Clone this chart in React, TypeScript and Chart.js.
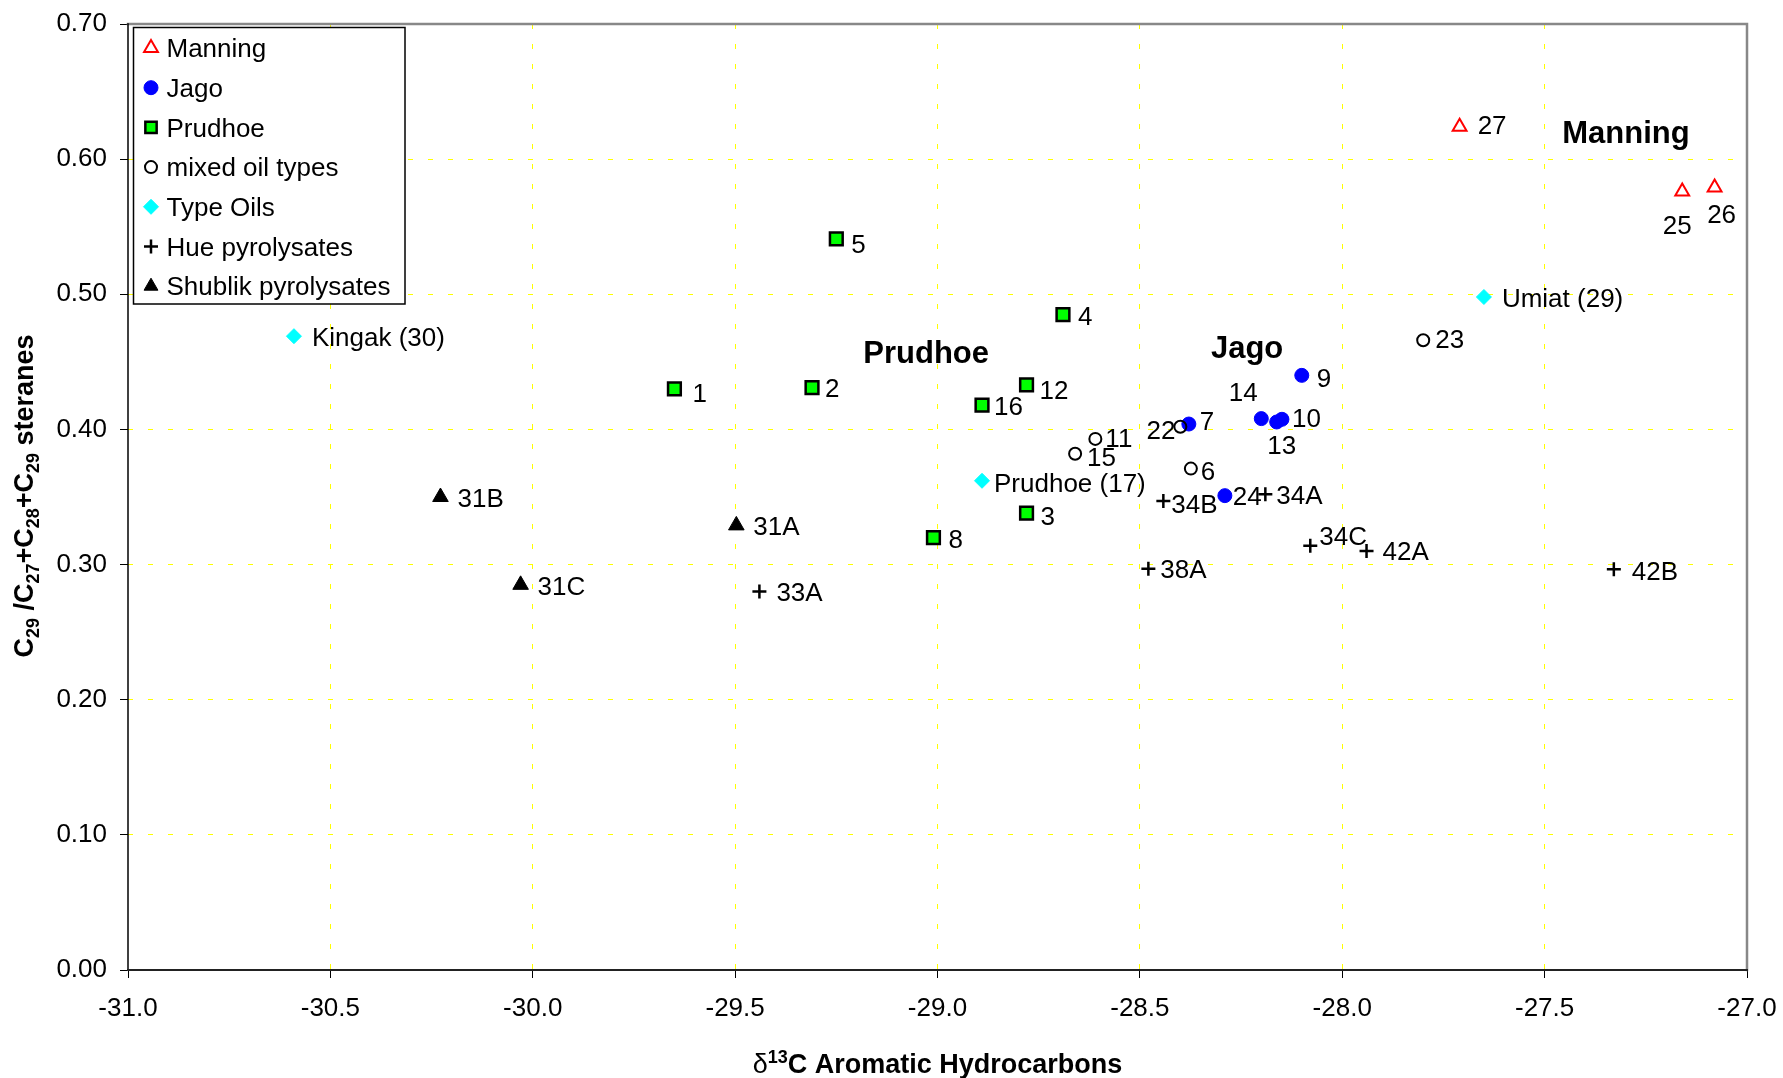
import { useEffect, useRef } from 'react';
import { Chart, registerables } from 'chart.js';
import * as helpers from 'chart.js/helpers';

Chart.register(...registerables);

const FONT = '"Liberation Sans", Arial, Helvetica, sans-serif';

// δ13C aromatic hydrocarbons (x) vs C29/(C27+C28+C29) steranes (y)
const manningIds = ['27', '25', '26'];
const manningX = [-27.71, -27.16, -27.08];
const manningY = [0.624, 0.576, 0.579];

const jagoIds = ['9', '14', '13', '10', '7', '24'];
const jagoX = [-28.1, -28.2, -28.162, -28.149, -28.379, -28.29];
const jagoY = [0.44, 0.408, 0.4055, 0.4075, 0.404, 0.351];

const prudhoeIds = ['5', '1', '2', '4', '12', '16', '3', '8'];
const prudhoeX = [-29.25, -29.65, -29.31, -28.69, -28.78, -28.89, -28.78, -29.01];
const prudhoeY = [0.541, 0.43, 0.431, 0.485, 0.433, 0.418, 0.338, 0.32];

const mixedIds = ['22', '11', '15', '6', '23'];
const mixedX = [-28.4, -28.61, -28.66, -28.374, -27.8];
const mixedY = [0.402, 0.393, 0.382, 0.371, 0.466];

const typeIds = ['Kingak (30)', 'Prudhoe (17)', 'Umiat (29)'];
const typeX = [-30.59, -28.89, -27.65];
const typeY = [0.469, 0.362, 0.498];

const hueIds = ['34B', '38A', '34A', '34C', '42A', '42B', '33A'];
const hueX = [-28.442, -28.479, -28.19, -28.079, -27.94, -27.329, -29.44];
const hueY = [0.347, 0.297, 0.352, 0.314, 0.31, 0.2965, 0.28];

const shublikIds = ['31B', '31A', '31C'];
const shublikX = [-30.228, -29.497, -30.03];
const shublikY = [0.35, 0.329, 0.285];

// Group captions placed in data coordinates
const groupNames = ['Prudhoe', 'Jago', 'Manning'];
const groupX = [-29.028, -28.235, -27.299];
const groupY = [0.4575, 0.4617, 0.6203];

// Axis ranges and tick steps
const xMin = -31.0;
const xMax = -27.0;
const xStep = 0.5;
const yMin = 0.0;
const yMax = 0.7;
const yStep = 0.1;

type Series = {
  label: string;
  ids: string[];
  xs: number[];
  ys: number[];
  pointStyle: string;
  radius: number;
  borderWidth: number;
  bg: string;
  border: string;
  order: number;
};

const seriesList: Series[] = [
  { label: 'Manning', ids: manningIds, xs: manningX, ys: manningY, pointStyle: 'triangle', radius: 8, borderWidth: 2, bg: 'rgba(0,0,0,0)', border: '#ff0000', order: 3 },
  { label: 'Jago', ids: jagoIds, xs: jagoX, ys: jagoY, pointStyle: 'circle', radius: 7, borderWidth: 1, bg: '#0000ff', border: '#0000ff', order: 2 },
  { label: 'Prudhoe', ids: prudhoeIds, xs: prudhoeX, ys: prudhoeY, pointStyle: 'rect', radius: 9, borderWidth: 2.5, bg: '#00ff00', border: '#000000', order: 4 },
  { label: 'mixed oil types', ids: mixedIds, xs: mixedX, ys: mixedY, pointStyle: 'circle', radius: 6, borderWidth: 2, bg: 'rgba(255,255,255,0)', border: '#000000', order: 1 },
  { label: 'Type Oils', ids: typeIds, xs: typeX, ys: typeY, pointStyle: 'rectRot', radius: 7.5, borderWidth: 1, bg: '#00ffff', border: '#00ffff', order: 5 },
  { label: 'Hue pyrolysates', ids: hueIds, xs: hueX, ys: hueY, pointStyle: 'cross', radius: 7, borderWidth: 2.5, bg: '#000000', border: '#000000', order: 6 },
  { label: 'Shublik pyrolysates', ids: shublikIds, xs: shublikX, ys: shublikY, pointStyle: 'triangle', radius: 9, borderWidth: 1, bg: '#000000', border: '#000000', order: 7 },
];

// Label offsets from the marker: [dx, dy, align]
const defaultPlacement: [number, number, CanvasTextAlign] = [16, 1, 'left'];
const labelPlacement: Record<string, [number, number, CanvasTextAlign]> = {
  '25': [-5, 33, 'center'],
  '26': [7, 26, 'center'],
  '27': [18, -2, 'left'],
  '14': [-18, -27, 'center'],
  '13': [5, 22, 'center'],
  '10': [10, -2, 'left'],
  '9': [15, 2, 'left'],
  '7': [11, -4, 'left'],
  '24': [8, 0, 'left'],
  '22': [-5, 3, 'right'],
  '11': [10, -2, 'left'],
  '15': [12, 3, 'left'],
  '6': [10, 2, 'left'],
  '23': [12, -2, 'left'],
  '5': [15, 4, 'left'],
  '1': [18, 3, 'left'],
  '2': [13, 0, 'left'],
  '4': [15, 1, 'left'],
  '12': [13, 4, 'left'],
  '16': [12, 0, 'left'],
  '3': [14, 2, 'left'],
  '8': [15, 1, 'left'],
  'Prudhoe (17)': [12, 2, 'left'],
  'Umiat (29)': [18, 0, 'left'],
  'Kingak (30)': [18, 0, 'left'],
  '34B': [8, 2, 'left'],
  '34A': [11, 0, 'left'],
  '34C': [9, -10, 'left'],
  '38A': [12, 0, 'left'],
  '42A': [16, -1, 'left'],
  '42B': [18, 1, 'left'],
  '33A': [17, 0, 'left'],
  '31A': [17, 0, 'left'],
  '31B': [17, 0, 'left'],
  '31C': [17, 0, 'left'],
};

const near = (a: number, b: number) => Math.abs(a - b) < 1e-6;

const framePlugin = {
  id: 'frame',
  beforeDatasetsDraw(chart: any) {
    const { ctx } = chart;
    const { left, right, top, bottom } = chart.chartArea;
    ctx.save();
    ctx.lineCap = 'square';
    ctx.strokeStyle = '#888888';
    ctx.lineWidth = 2.5;
    ctx.beginPath();
    ctx.moveTo(left, top);
    ctx.lineTo(right, top);
    ctx.lineTo(right, bottom);
    ctx.stroke();
    ctx.strokeStyle = '#000000';
    ctx.lineWidth = 1.5;
    ctx.beginPath();
    ctx.moveTo(left, top);
    ctx.lineTo(left, bottom);
    ctx.stroke();
    ctx.strokeStyle = '#222222';
    ctx.lineWidth = 2;
    ctx.beginPath();
    ctx.moveTo(left, bottom);
    ctx.lineTo(right, bottom);
    ctx.stroke();
    ctx.restore();
  },
};

const pointLabelsPlugin = {
  id: 'pointLabels',
  afterDatasetsDraw(chart: any) {
    const { ctx } = chart;
    ctx.save();
    ctx.fillStyle = '#000000';
    ctx.textBaseline = 'middle';
    ctx.font = `26px ${FONT}`;
    chart.data.datasets.forEach((_ds: any, di: number) => {
      const meta = chart.getDatasetMeta(di);
      const ids = seriesList[di].ids;
      meta.data.forEach((pt: any, j: number) => {
        const id = ids[j];
        const [dx, dy, align] = labelPlacement[id] ?? defaultPlacement;
        ctx.textAlign = align;
        ctx.fillText(id, pt.x + dx, pt.y + dy + 2.5);
      });
    });
    ctx.font = `bold 31px ${FONT}`;
    ctx.textAlign = 'center';
    const xs = chart.scales.x;
    const ys = chart.scales.y;
    groupNames.forEach((name, i) => {
      ctx.fillText(name, xs.getPixelForValue(groupX[i]), ys.getPixelForValue(groupY[i]) + 3);
    });
    ctx.restore();
  },
};

const legendPlugin = {
  id: 'insetLegend',
  afterDatasetsDraw(chart: any) {
    const { ctx } = chart;
    const { left, top } = chart.chartArea;
    const bx = left + 5.5;
    const by = top + 3.5;
    const bw = 271.5;
    const bh = 276.5;
    ctx.save();
    ctx.fillStyle = '#ffffff';
    ctx.fillRect(bx, by, bw, bh);
    ctx.strokeStyle = '#000000';
    ctx.lineWidth = 1.5;
    ctx.strokeRect(bx, by, bw, bh);
    seriesList.forEach((s, i) => {
      const cy = by + 20.5 + i * 39.7;
      ctx.fillStyle = s.bg;
      ctx.strokeStyle = s.border;
      ctx.lineWidth = s.borderWidth;
      helpers.drawPoint(
        ctx,
        { pointStyle: s.pointStyle as any, radius: Math.min(s.radius, 8), borderWidth: s.borderWidth, rotation: 0 } as any,
        bx + 17.5,
        cy
      );
      ctx.fillStyle = '#000000';
      ctx.font = `26px ${FONT}`;
      ctx.textAlign = 'left';
      ctx.textBaseline = 'middle';
      ctx.fillText(s.label, bx + 33, cy + 2);
    });
    ctx.restore();
  },
};

type Seg = { t: string; font: string; dy: number };

function drawSegments(ctx: CanvasRenderingContext2D, segs: Seg[], cx: number, baseline: number) {
  let total = 0;
  const widths = segs.map((s) => {
    ctx.font = s.font;
    const w = ctx.measureText(s.t).width;
    total += w;
    return w;
  });
  let x = cx - total / 2;
  ctx.textAlign = 'left';
  ctx.textBaseline = 'alphabetic';
  segs.forEach((s, i) => {
    ctx.font = s.font;
    ctx.fillText(s.t, x, baseline + s.dy);
    x += widths[i];
  });
}

const titlesPlugin = {
  id: 'axisTitles',
  afterDraw(chart: any) {
    const { ctx } = chart;
    const { left, right, top, bottom } = chart.chartArea;
    const big = `bold 27px ${FONT}`;
    const small = `bold 18px ${FONT}`;
    ctx.save();
    ctx.fillStyle = '#000000';
    drawSegments(
      ctx,
      [
        { t: 'δ', font: `27px ${FONT}`, dy: 0 },
        { t: '13', font: small, dy: -10 },
        { t: 'C Aromatic Hydrocarbons', font: big, dy: 0 },
      ],
      (left + right) / 2,
      bottom + 103
    );
    ctx.translate(33, (top + bottom) / 2 - 1);
    ctx.rotate(-Math.PI / 2);
    drawSegments(
      ctx,
      [
        { t: 'C', font: big, dy: 0 },
        { t: '29', font: small, dy: 6 },
        { t: ' /C', font: big, dy: 0 },
        { t: '27', font: small, dy: 6 },
        { t: '+C', font: big, dy: 0 },
        { t: '28', font: small, dy: 6 },
        { t: '+C', font: big, dy: 0 },
        { t: '29', font: small, dy: 6 },
        { t: ' steranes', font: big, dy: 0 },
      ],
      0,
      0
    );
    ctx.restore();
  },
};

export default function App() {
  const canvasRef = useRef<HTMLCanvasElement | null>(null);

  useEffect(() => {
    document.body.style.margin = '0';
    const canvas = canvasRef.current;
    if (!canvas) return;

    const chart = new Chart(canvas, {
      type: 'scatter',
      data: {
        datasets: seriesList.map((s) => ({
          label: s.label,
          data: s.xs.map((x, i) => ({ x, y: s.ys[i] })),
          pointStyle: s.pointStyle as any,
          pointRadius: s.radius,
          pointHoverRadius: s.radius,
          pointBackgroundColor: s.bg,
          pointBorderColor: s.border,
          pointBorderWidth: s.borderWidth,
          order: s.order,
          showLine: false,
        })),
      },
      options: {
        responsive: false,
        animation: false,
        devicePixelRatio: 1,
        events: [],
        layout: { padding: { left: 0, top: 24, right: 36, bottom: 0 } },
        plugins: {
          legend: { display: false },
          tooltip: { enabled: false },
        },
        scales: {
          x: {
            type: 'linear',
            position: 'bottom',
            min: xMin,
            max: xMax,
            afterFit: (scale: any) => {
              scale.height = 108;
              scale.paddingLeft = 0;
              scale.paddingRight = 0;
            },
            ticks: {
              stepSize: xStep,
              autoSkip: false,
              maxRotation: 0,
              color: '#000000',
              padding: 15,
              font: { family: FONT, size: 26 },
              callback: (v: any) => Number(v).toFixed(1),
            },
            grid: {
              color: (c: any) =>
                c.tick && (near(c.tick.value, xMin) || near(c.tick.value, xMax)) ? 'rgba(0,0,0,0)' : '#ffff00',
              lineWidth: 1,
              tickColor: '#000000',
              tickLength: 8,
              tickWidth: 1,
            },
            border: { display: false, dash: [5, 15] },
          },
          y: {
            type: 'linear',
            min: yMin,
            max: yMax,
            afterFit: (scale: any) => {
              scale.width = 128;
              scale.paddingTop = 0;
              scale.paddingBottom = 0;
            },
            ticks: {
              stepSize: yStep,
              color: '#000000',
              padding: 13,
              font: { family: FONT, size: 26 },
              callback: (v: any) => Number(v).toFixed(2),
            },
            grid: {
              color: (c: any) =>
                c.tick && (near(c.tick.value, yMin) || near(c.tick.value, yMax)) ? 'rgba(0,0,0,0)' : '#ffff00',
              lineWidth: 1,
              tickColor: '#000000',
              tickLength: 8,
              tickWidth: 1,
            },
            border: { display: false, dash: [5, 15] },
          },
        },
      } as any,
      plugins: [framePlugin, pointLabelsPlugin, legendPlugin, titlesPlugin],
    });

    return () => {
      chart.destroy();
    };
  }, []);

  return (
    <div style={{ width: 1783, height: 1078, background: '#ffffff' }}>
      <canvas ref={canvasRef} width={1783} height={1078} style={{ display: 'block', width: 1783, height: 1078 }} />
    </div>
  );
}
